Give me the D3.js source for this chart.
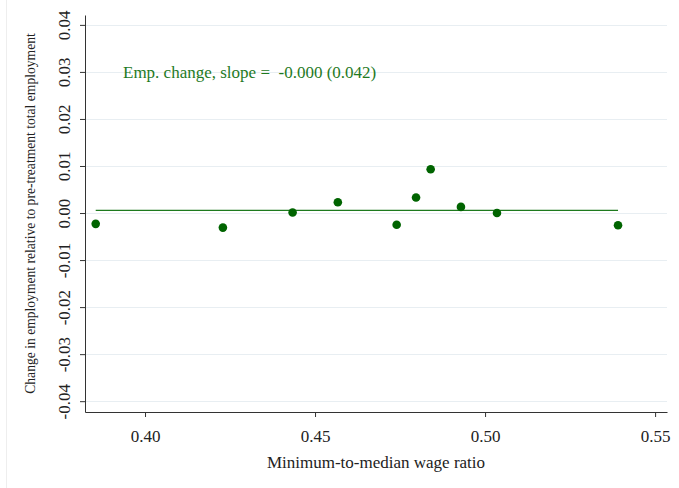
<!DOCTYPE html>
<html>
<head>
<meta charset="utf-8">
<script src="https://cdn.jsdelivr.net/npm/d3@7"></script>
<style>
  body { margin: 0; background: #fff; }
  svg text { font-family: "Liberation Serif", "Times New Roman", serif; }
</style>
</head>
<body>
<script>
// binned points: min-to-median ratio vs employment change
var ratio = [0.3855, 0.4229, 0.4434, 0.4567, 0.4740, 0.4797, 0.4840, 0.4929, 0.5035, 0.5391];
var empChange = [-0.0023, -0.0031, 0.0001, 0.0023, -0.0025, 0.0033, 0.0093, 0.0013, 0.0000, -0.0026];
// fitted line endpoints (flat)
var fitX = [0.3855, 0.5391];
var fitY = [0.00057, 0.00057];
var xTicks = [0.40, 0.45, 0.50, 0.55];
var yTicks = [-0.04, -0.03, -0.02, -0.01, 0.00, 0.01, 0.02, 0.03, 0.04];

var width = 679, height = 488;
var plotL = 85, plotR = 667, plotT = 15, plotB = 412;

// plain hyphen for negatives, like the original
var fmt = function(d){ return d.toFixed(2); };

var svg = d3.select("body").append("svg")
  .attr("width", width)
  .attr("height", height);

// faint outer frame on the left
svg.append("line")
  .attr("x1", 6.5).attr("x2", 6.5).attr("y1", 0).attr("y2", height)
  .attr("stroke", "#eeeeee");

var x = d3.scaleLinear().domain([0.38235, 0.5535]).range([plotL, plotR]);
var y = d3.scaleLinear().domain([-0.0423, 0.0421]).range([plotB, plotT]);

// gridlines
svg.selectAll(".grid")
  .data(yTicks)
  .enter()
  .append("line")
  .attr("class", "grid")
  .attr("x1", plotL).attr("x2", plotR)
  .attr("y1", function(d){ return Math.round(y(d)) + 0.5; })
  .attr("y2", function(d){ return Math.round(y(d)) + 0.5; })
  .attr("stroke", "#e8eef2")
  .attr("stroke-width", 1);

// y axis
var yAxis = svg.append("g")
  .attr("transform", "translate(" + plotL + ",0)")
  .call(d3.axisLeft(y).tickValues(yTicks).tickFormat(fmt).tickSize(5).tickSizeOuter(0));
yAxis.select(".domain").attr("stroke", "#333");
yAxis.selectAll(".tick line").attr("stroke", "#333");
yAxis.selectAll(".tick text")
  .attr("font-size", 17)
  .attr("fill", "#222")
  .attr("text-anchor", "middle")
  .attr("transform", "rotate(-90)")
  .attr("x", 0)
  .attr("y", -15)
  .attr("dy", "0");

// x axis
var xAxis = svg.append("g")
  .attr("transform", "translate(0," + plotB + ")")
  .call(d3.axisBottom(x).tickValues(xTicks).tickFormat(fmt).tickSize(5).tickSizeOuter(0));
xAxis.select(".domain").attr("stroke", "#333");
xAxis.selectAll(".tick line").attr("stroke", "#333");
xAxis.selectAll(".tick text")
  .attr("font-size", 17)
  .attr("fill", "#222")
  .attr("y", 18);

// axis titles
svg.append("text")
  .attr("x", 376).attr("y", 468)
  .attr("text-anchor", "middle")
  .attr("font-size", 17)
  .attr("fill", "#222")
  .text("Minimum-to-median wage ratio");

svg.append("text")
  .attr("transform", "translate(35," + ((plotT + plotB) / 2) + ") rotate(-90)")
  .attr("text-anchor", "middle")
  .attr("font-size", 13.6)
  .attr("fill", "#222")
  .text("Change in employment relative to pre-treatment total employment");

// fit line
svg.append("line")
  .attr("x1", x(fitX[0])).attr("x2", x(fitX[1]))
  .attr("y1", y(fitY[0])).attr("y2", y(fitY[1]))
  .attr("stroke", "#1e7a1e")
  .attr("stroke-width", 1.3);

// points
svg.selectAll(".pt")
  .data(ratio)
  .enter()
  .append("circle")
  .attr("class", "pt")
  .attr("cx", function(d){ return x(d); })
  .attr("cy", function(d, i){ return y(empChange[i]); })
  .attr("r", 4.3)
  .attr("fill", "#006400");

// slope annotation
svg.append("text")
  .attr("x", 123).attr("y", 78)
  .attr("font-size", 17)
  .attr("fill", "#1f7a1f")
  .style("white-space", "pre")
  .text("Emp. change, slope =  -0.000 (0.042)");
</script>
</body>
</html>
